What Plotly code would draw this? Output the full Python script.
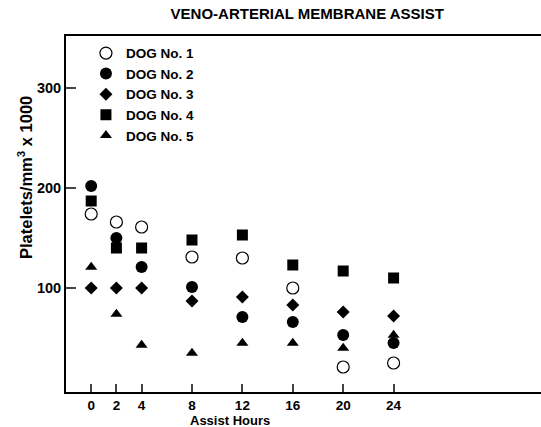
import plotly.graph_objects as go

hours = [0, 2, 4, 8, 12, 16, 20, 24]
dog1 = [174, 166, 161, 131, 130, 100, 21, 25]
dog2 = [202, 150, 121, 101, 71, 66, 53, 45]
dog3 = [100, 100, 100, 87, 91, 83, 76, 72]
dog4 = [187, 140, 140, 148, 153, 123, 117, 110]
dog5 = [121, 74, 43, 35, 45, 45, 40, 53]
names = ["DOG No. 1", "DOG No. 2", "DOG No. 3", "DOG No. 4", "DOG No. 5"]
x_ticks = [0, 2, 4, 8, 12, 16, 20, 24]
y_ticks = [100, 200, 300]

FONT = "Liberation Sans"
series = [dog1, dog2, dog3, dog4, dog5]
styles = [
    dict(symbol="circle", size=12, color="white", line=dict(color="black", width=1.2)),
    dict(symbol="circle", size=12, color="black", line=dict(color="black", width=0)),
    dict(symbol="diamond", size=10, color="black", line=dict(color="black", width=0)),
    dict(symbol="square", size=11, color="black", line=dict(color="black", width=0)),
    dict(symbol="triangle-up", size=10.5, color="black", line=dict(color="black", width=0)),
]

fig = go.Figure()
for name, vals, st in zip(names, series, styles):
    fig.add_trace(go.Scatter(x=hours, y=vals, mode="markers", name=name, marker=st))

fig.update_layout(
    width=541, height=427,
    margin=dict(l=66, r=0, t=36, b=35),
    paper_bgcolor="white", plot_bgcolor="white",
    font=dict(family=FONT, size=14, color="black", weight="bold"),
    showlegend=True,
    legend=dict(x=0.042, y=0.995, xanchor="left", yanchor="top",
                bgcolor="rgba(0,0,0,0)", font=dict(size=13.5, weight="bold"),
                tracegroupgap=0),
    title=dict(text="VENO-ARTERIAL MEMBRANE ASSIST", xref="paper", x=0.508, xanchor="center",
               y=1 - 14/427, yanchor="middle", font=dict(size=15, weight="bold")),
    xaxis=dict(range=[-2, 35.7], tickvals=x_ticks, ticks="inside", ticklen=8, tickwidth=1.5,
               showline=True, linecolor="black", linewidth=2, mirror=True,
               showgrid=False, zeroline=False, automargin=False,
               tickfont=dict(size=13.5, weight="bold")),
    yaxis=dict(range=[-4, 352], tickvals=y_ticks, ticks="inside", ticklen=10, tickwidth=1.5,
               showline=True, linecolor="black", linewidth=2,
               showgrid=False, zeroline=False, automargin=False,
               tickfont=dict(size=14.5, weight="bold")),
)
fig.add_annotation(text="Assist Hours",
                   xref="x", yref="paper", x=11, y=-(420 - 392) / 356,
                   xanchor="center", yanchor="middle", showarrow=False,
                   font=dict(size=13, weight="bold"))
fig.add_annotation(text="Platelets/mm<sup>3</sup> x 1000", textangle=-90,
                   xref="paper", yref="paper", x=(25 - 66) / 475, y=(392 - 178) / 356,
                   xanchor="center", yanchor="middle", showarrow=False,
                   font=dict(size=16.5, weight="bold"))

fig.write_html("out.html", config={"displayModeBar": False},
               post_script="document.body.style.margin='0';document.body.style.overflow='hidden';")
